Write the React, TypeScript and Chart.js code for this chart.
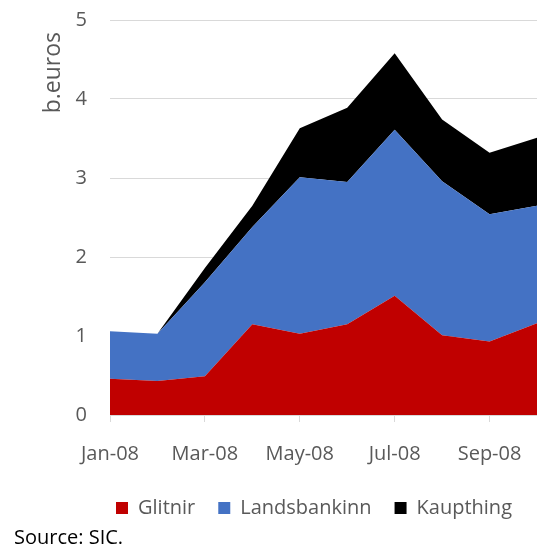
import React, { useEffect, useRef } from "react";
import { Chart, registerables } from "chart.js";

Chart.register(...registerables);

const months = ["Jan-08", "Feb-08", "Mar-08", "Apr-08", "May-08", "Jun-08", "Jul-08", "Aug-08", "Sep-08", "Oct-08"];
const glitnir = [0.46, 0.43, 0.49, 1.15, 1.03, 1.15, 1.51, 1.01, 0.93, 1.16];
const landsbankinn = [0.60, 0.60, 1.19, 1.23, 1.98, 1.80, 2.10, 1.95, 1.61, 1.49];
const kaupthing = [0.0, 0.0, 0.18, 0.27, 0.62, 0.94, 0.97, 0.78, 0.78, 0.86];
const yTicks = [0, 1, 2, 3, 4, 5];

const FONT = "'Open Sans', sans-serif";
const TEXT = "#595959";
const GRID = "#d9d9d9";

export default function App() {
  const ref = useRef<HTMLCanvasElement | null>(null);

  useEffect(() => {
    if (!ref.current) return;
    const legendShift = {
      id: "legendShift",
      afterLayout(chart: any) {
        if (chart.legend) {
          chart.legend.left = 68;
          chart.legend.right = 560;
        }
      },
    };
    const chart = new Chart(ref.current, {
      type: "line",
      data: {
        labels: months,
        datasets: [
          { label: "Glitnir", data: glitnir, backgroundColor: "#c00000", borderColor: "#c00000", borderWidth: 0, fill: "origin", pointRadius: 0, tension: 0 },
          { label: "Landsbankinn", data: landsbankinn, backgroundColor: "#4472c4", borderColor: "#4472c4", borderWidth: 0, fill: "-1", pointRadius: 0, tension: 0 },
          { label: "Kaupthing", data: kaupthing, backgroundColor: "#000000", borderColor: "#000000", borderWidth: 0, fill: "-1", pointRadius: 0, tension: 0 },
        ],
      },
      options: {
        animation: false,
        responsive: false,
        maintainAspectRatio: false,
        layout: { padding: { top: 20, right: 0, left: 0, bottom: 18 } },
        plugins: {
          legend: {
            position: "bottom",
            labels: {
              boxWidth: 12,
              boxHeight: 12,
              padding: 23,
              color: TEXT,
              font: { family: FONT, size: 20 },
            },
          },
          tooltip: { enabled: false },
        },
        scales: {
          x: {
            offset: false,
            grid: { drawOnChartArea: false, drawTicks: true, tickLength: 7, tickColor: GRID },
            border: { color: GRID, width: 1 },
            ticks: {
              autoSkip: false,
              maxRotation: 0,
              padding: 20,
              color: TEXT,
              font: { family: FONT, size: 20 },
              callback: (_v: any, i: number) => (i % 2 === 0 ? months[i] : null),
            },
            afterFit: (s: any) => {
              s.height = 60;
              s.paddingLeft = 0;
              s.paddingRight = 0;
            },
          },
          y: {
            stacked: true,
            min: 0,
            max: 5,
            afterBuildTicks: (s: any) => { s.ticks = yTicks.map((v) => ({ value: v })); },
            grid: { color: GRID, drawTicks: false, lineWidth: 1 },
            border: { display: false },
            ticks: { padding: 23, color: TEXT, font: { family: FONT, size: 20 } },
            title: {
              display: true,
              text: "b.euros\u00a0\u00a0",
              align: "end",
              color: TEXT,
              font: { family: FONT, size: 23 },
              padding: { top: 40, bottom: 0 },
            },
            afterFit: (s: any) => {
              s.width = 110;
              s.paddingTop = 0;
              s.paddingBottom = 0;
            },
          },
        },
      },
      plugins: [legendShift],
    });
    return () => chart.destroy();
  }, []);

  return (
    <div style={{ position: "absolute", left: 0, top: 0, width: 537, height: 546 }}>
      <canvas ref={ref} width={537} height={546} style={{ display: "block" }} />
      <div
        style={{
          position: "absolute",
          left: 14,
          top: 524,
          fontFamily: FONT,
          fontSize: 20,
          color: "#000",
          lineHeight: "26px",
          whiteSpace: "nowrap",
        }}
      >
        Source: SIC.
      </div>
    </div>
  );
}
